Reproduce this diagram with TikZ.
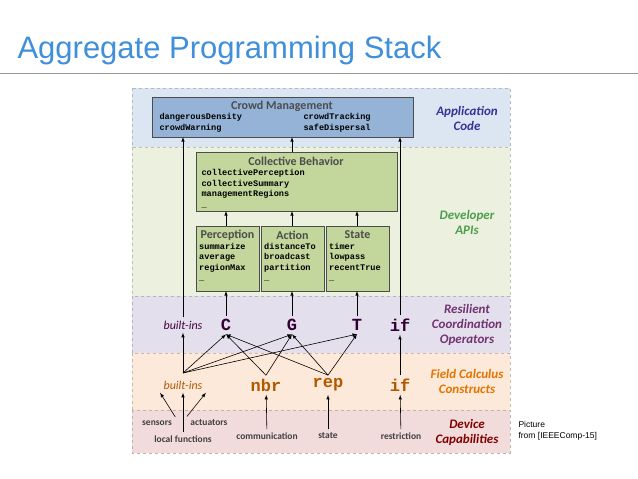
\documentclass[tikz,border=0pt]{standalone}
\usepackage{fontspec}
\setmainfont{Carlito}
\setmonofont{Liberation Mono}
\newfontfamily\titlefont{Liberation Sans}
\usetikzlibrary{positioning}
\definecolor{appbg}{HTML}{DCE6F2}
\definecolor{devbg}{HTML}{EBF1DE}
\definecolor{resbg}{HTML}{E4DFEC}
\definecolor{fldbg}{HTML}{FDE9D9}
\definecolor{capbg}{HTML}{F2DCDB}
\definecolor{cmbox}{HTML}{95B3D7}
\definecolor{cbbox}{HTML}{C3D69B}
\definecolor{titleblue}{HTML}{3F8FDB}
\tikzset{
  layer/.style={draw=#1!80!black, dashed, fill=#1},
  api/.style={draw=black!70, fill=#1, thick},
  lbl/.style={font=\fontsize{13}{15}\selectfont\bfseries\itshape, align=center},
  op/.style={font=\ttfamily\bfseries\fontsize{17}{17}\selectfont},
  devcap/.style={font=\fontsize{9.5}{9.5}\selectfont\bfseries, text=black!75},
  code/.style={font=\ttfamily\bfseries\fontsize{8.6}{10.5}\selectfont},
  boxtitle/.style={font=\fontsize{12}{12}\selectfont\bfseries, text=black!70},
  arr/.style={-latex, semithick}
}
\begin{document}
\begin{tikzpicture}[x=1pt,y=-1pt]
\useasboundingbox[fill=white] (0,0) rectangle (638,479);
\node[anchor=west, text=titleblue, font=\titlefont\fontsize{31}{31}\selectfont] (title) at (14,50) {Aggregate Programming Stack};
\draw[black!40] (0,73) -- (638,73);

% layers
\draw[layer=appbg] (132,88) rectangle (510,147);
\draw[layer=devbg] (132,147) rectangle (510,296);
\draw[layer=resbg] (132,296) rectangle (510,353);
\draw[layer=fldbg] (132,353) rectangle (510,410);
\draw[layer=capbg] (132,410) rectangle (510,453);

% layer labels
\node[lbl, text=blue!50!black!80] (lapp) at (467,118) {Application\\Code};
\node[lbl, text=green!45!black!70] (ldev) at (467,222) {Developer\\APIs};
\node[lbl, text=violet!60!black!80] (lres) at (467,325) {Resilient\\Coordination\\Operators};
\node[lbl, text=orange!90!black] (lfld) at (467,381) {Field Calculus\\Constructs};
\node[lbl, text=red!50!black] (lcap) at (467,432) {Device\\Capabilities};

% API boxes
\draw[api=cmbox] (152,97) rectangle (413,137);
\node[boxtitle] (cmt) at (282,106) {Crowd Management};
\node[code, anchor=north west, align=left] (cml) at (156,110) {dangerousDensity\\crowdWarning};
\node[code, anchor=north west, align=left] (cmr) at (300,110) {crowdTracking\\safeDispersal};

\draw[api=cbbox] (196,152) rectangle (397,211);
\node[boxtitle] (cbt) at (296,161) {Collective Behavior};
\node[code, anchor=north west, align=left] (cbl) at (198,166) {collectivePerception\\collectiveSummary\\managementRegions\\\_};

\foreach \x/\t/\a/\b/\c [count=\i] in {196/Perception/summarize/average/regionMax,
  261/Action/distanceTo/broadcast/partition, 326/State/timer/lowpass/recentTrue}{
  \draw[api=cbbox] (\x,226) rectangle ({\x+63},291);
  \node[boxtitle] (sb\i) at ({\x+31.5},235) {\t};
  \node[code, anchor=north west, align=left, inner sep=1pt] (sl\i) at ({\x+2},242) {\a\\\b\\\c\\\_};
}

% operators
\node[font=\fontsize{12}{12}\selectfont\itshape, text=violet!50!black] (rbi) at (183,325) {built-ins};
\node[op, text=violet!40!black] (C) at (226,325) {C};
\node[op, text=violet!40!black] (G) at (292,325) {G};
\node[op, text=violet!40!black] (T) at (357,325) {T};
\node[op, text=violet!40!black] (rif) at (400,325) {if};

\node[font=\fontsize{12}{12}\selectfont\itshape, text=orange!70!black] (fbi) at (183,385) {built-ins};
\node[op, text=orange!70!black] (nbr) at (266,385) {nbr};
\node[op, text=orange!70!black] (rep) at (328,385) {rep};
\node[op, text=orange!70!black] (fif) at (400,385) {if};

\node[devcap] (sens) at (157,423) {sensors};
\node[devcap] (loc) at (183,439) {local functions};
\node[devcap] (act) at (209,423) {actuators};
\node[devcap] (com) at (267,436) {communication};
\node[devcap] (st) at (328,436) {state};
\node[devcap] (res) at (401,436) {restriction};

\node[anchor=north west, align=left, font=\titlefont\fontsize{8.5}{11}\selectfont] (pic) at (515,418) {Picture\\from [IEEEComp-15]};

% connectors
\coordinate (hub) at (183,373);
\draw[arr] (sens.north east) -- (fbi.south west);
\draw[arr] (loc.north) -- (fbi.south);
\draw[arr] (act.north west) -- (fbi.south east);
\draw[arr] (com) -- (nbr);
\draw[arr] (st) -- (rep);
\draw[arr] (res) -- (fif);
\draw[arr] (fif) -- (rif);
\draw[arr] (hub) -- (rbi);
\foreach \t in {C,G,T} \draw[arr] (hub) -- (\t.south);
\foreach \t in {C,G} \draw[arr] (nbr.north) -- (\t.south);
\foreach \t in {C,G,T} \draw[arr] (rep.north) -- (\t.south);
\draw[arr] (rbi.north) -- (rbi.north |- 137,137);
\draw[arr] (rif.north) -- (rif.north |- 137,137);
\draw[arr] (C.north) -- (226,291);
\draw[arr] (G.north) -- (292,291);
\draw[arr] (T.north) -- (357,291);
\foreach \x in {226,292,357} \draw[arr] (\x,226) -- (\x,211);
\draw[arr] (292,152) -- (292,137);
\end{tikzpicture}
\end{document}
